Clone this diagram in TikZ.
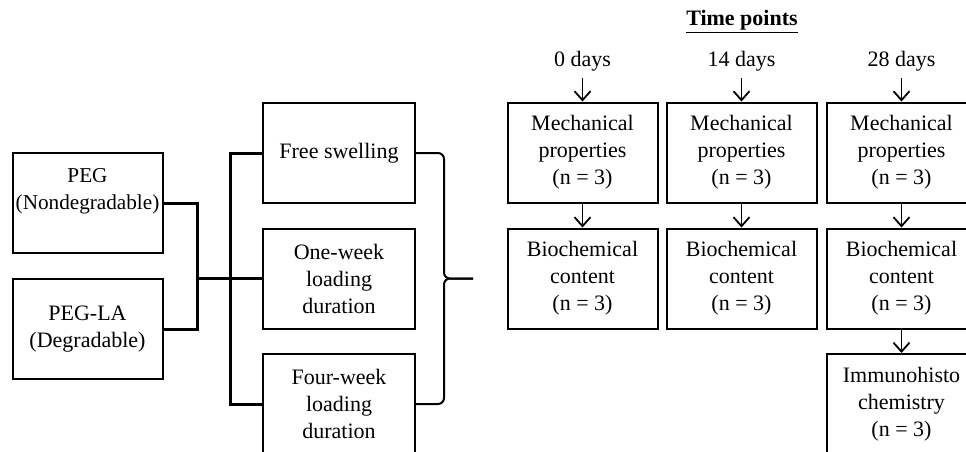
\documentclass[tikz,border=0pt]{standalone}
\usepackage{fontspec}
\setmainfont{Liberation Serif}
\usepackage{tikz}
\usetikzlibrary{arrows.meta}
\tikzset{box/.style={rectangle,draw,line width=1pt,minimum width=75pt,minimum height=50pt,align=center,inner xsep=0pt,inner ysep=1pt,font=\fontsize{11}{13.5}\selectfont},
  lbl/.style={font=\fontsize{11}{13.5}\selectfont},
  bus/.style={line width=1.5pt},
  arr/.style={->,line width=0.9pt},
  brc/.style={line width=1pt,rounded corners=3pt}}

\begin{document}
\begin{tikzpicture}[x=0.5pt,y=-0.5pt,>={Straight Barb[length=4.5pt,width=8pt]}]
    \useasboundingbox (0,0) rectangle (966,451);

    \node[box,font=\fontsize{10.6}{13.5}\selectfont] (peg) at (87.5,203) {PEG\\(Nondegradable)\\[-4pt]\strut};
    \node[box] (pegla) at (87.5,329) {PEG-LA\\(Degradable)};

    \node[box,minimum width=76pt] (fs) at (339,153) {Free swelling};
    \node[box,minimum width=76pt] (ow) at (339,278.5) {One-week\\loading\\duration};
    \node[box,minimum width=76pt] (fw) at (339,404) {Four-week\\loading\\duration};

    \node[lbl,font=\fontsize{11}{13.5}\selectfont\bfseries] (tp) at (742,22) {\underline{Time points}};
    \node[lbl] (d0) at (582.5,61) {0 days};
    \node[lbl] (d14) at (741.5,61) {14 days};
    \node[lbl] (d28) at (901.5,61) {28 days};

    \node[box] (m0) at (582.5,152.5) {Mechanical\\properties\\(n = 3)};
    \node[box] (m14) at (741.5,152.5) {Mechanical\\properties\\(n = 3)};
    \node[box] (m28) at (901.5,152.5) {Mechanical\\properties\\(n = 3)};
    \node[box] (b0) at (582.5,278.5) {Biochemical\\content\\(n = 3)};
    \node[box] (b14) at (741.5,278.5) {Biochemical\\content\\(n = 3)};
    \node[box] (b28) at (901.5,278.5) {Biochemical\\content\\(n = 3)};
    \node[box] (ih) at (901.5,404) {Immunohisto\\chemistry\\(n = 3)};

    \coordinate (j) at (197,278.5);
    \coordinate (bx) at (230,278.5);
    \coordinate (tip) at (473,278.5);

    \draw [bus] (peg.east) -| (j) |- (pegla.east);
    \draw [bus] (j) -- (ow.west);
    \draw [bus] (fs.west) -| (bx) |- (fw.west);

    \draw [brc] (fs.east) -- (444,153) -- (444,278.5) -- (tip);
    \draw [brc] (fw.east) -- (444,404) -- (444,278.5) -- (tip);

    \draw [arr] (d0) -- (m0);
    \draw [arr] (d14) -- (m14);
    \draw [arr] (d28) -- (m28);
    \draw [arr] (m0) -- (b0);
    \draw [arr] (m14) -- (b14);
    \draw [arr] (m28) -- (b28);
    \draw [arr] (b28) -- (ih);
\end{tikzpicture}
\end{document}
